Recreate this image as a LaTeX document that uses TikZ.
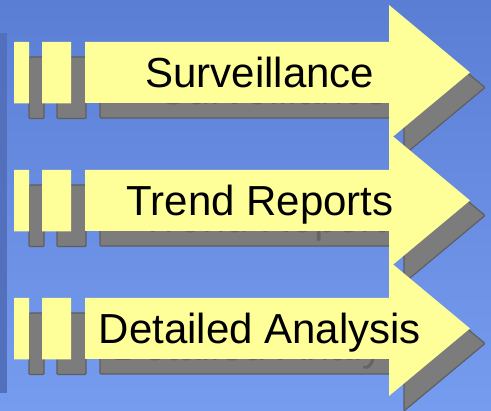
\documentclass[tikz,border=0pt]{standalone}
\usepackage{fontspec}
\setmainfont{Liberation Sans}
\definecolor{bgtop}{HTML}{5A7ED3}
\definecolor{bgbot}{HTML}{769CF0}
\definecolor{strip}{HTML}{5270BC}
\definecolor{yel}{HTML}{FFFF99}
\definecolor{shad}{HTML}{7C7C7C}
\definecolor{shadedge}{HTML}{5E5E5E}
\definecolor{ghost}{HTML}{646464}
\tikzset{
  yelshape/.style={fill=yel, draw=none},
  shadshape/.style={fill=shad, draw=shadedge, line width=1.2pt, rounded corners=1pt},
  label/.style={font=\fontsize{42}{42}\selectfont, text=black, inner sep=0pt, anchor=base},
  ghostlabel/.style={font=\fontsize{42}{42}\selectfont, text=ghost, inner sep=0pt, anchor=base},
}
\newcommand{\arrowpath}{(85,42) -- (389,42) -- (389,5) -- (470,72.5) -- (389,140) -- (389,103) -- (85,103) -- cycle
  (14,42) rectangle (29,103.5) (42,42) rectangle (71,103.5)}
\begin{document}
\begin{tikzpicture}[x=1pt,y=-1pt]
\useasboundingbox (0,0) rectangle (491,411);
\shade[top color=bgtop, bottom color=bgbot] (0,0) rectangle (491,411);
\fill[strip] (0,33) rectangle (7,393);
% shadows
\foreach \dy in {0,128,256}{
  \begin{scope}[shift={(15,15+\dy)}]
    \path[shadshape] (85,42) -- (389,42) -- (389,5) -- (470,72.5) -- (389,140) -- (389,103) -- (85,103) -- cycle;
    \path[shadshape] (14,42) rectangle (29,103.5);
    \path[shadshape] (42,42) rectangle (71,103.5);
  \end{scope}
}
\node[ghostlabel] (g1) at (274,105) {Surveillance};
\node[ghostlabel] (g2) at (274,233) {Trend Reports};
\node[ghostlabel] (g3) at (274,361) {Detailed Analysis};
% arrows
\foreach \dy in {0,128,256}{
  \begin{scope}[shift={(0,\dy)}]
    \fill[yelshape] \arrowpath;
  \end{scope}
}
\node[label] (t1) at (260,88) {Surveillance};
\node[label] (t2) at (260,216) {Trend Reports};
\node[label] (t3) at (260,344) {Detailed Analysis};
\end{tikzpicture}
\end{document}
